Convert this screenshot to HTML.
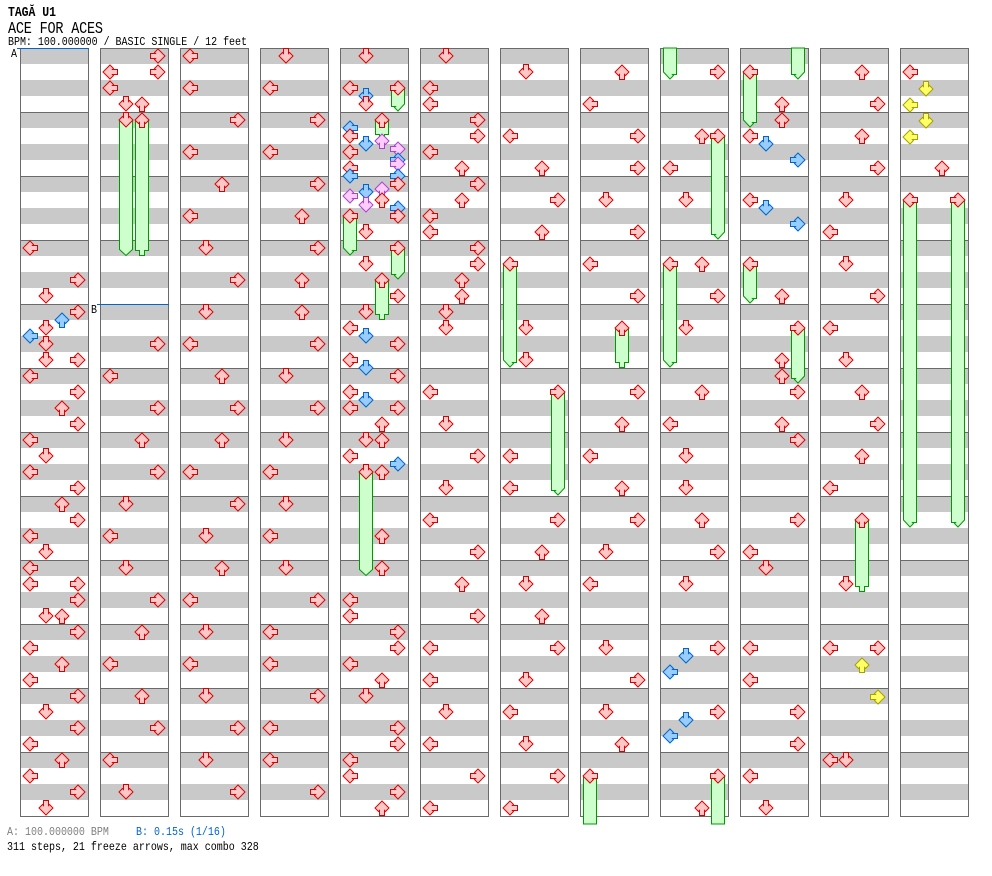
<!DOCTYPE html>
<html><head><meta charset="utf-8"><style>
html,body{margin:0;padding:0;background:#fff;}
svg{display:block;font-family:"Liberation Mono",monospace;}
.r{fill:#ffc8c8;stroke:#dd0000}
.b{fill:#99ccff;stroke:#0066cc}
.y{fill:#ffff66;stroke:#a8a000}
.p{fill:#ffccff;stroke:#aa44cc}
.f{fill:#ccffcc;stroke:#009900}
</style></head><body>
<svg width="992" height="876" viewBox="0 0 992 876" xmlns="http://www.w3.org/2000/svg" xmlns:xlink="http://www.w3.org/1999/xlink">
<defs>
<pattern id="st" x="0" y="48" width="100" height="64" patternUnits="userSpaceOnUse">
<rect width="100" height="64" fill="#fff"/>
<rect y="0" width="100" height="16" fill="#c9c9c9"/>
<rect y="32" width="100" height="16" fill="#c9c9c9"/>
<rect y="0" width="100" height="1" fill="#6a6a6a"/>
</pattern>
<path id="a" d="M5.5,0.5H10.5V5.5L11.5,4.5L15,8L8,15L1,8L4.5,4.5L5.5,5.5Z"/>
<use id="L" href="#a" xlink:href="#a" transform="rotate(90 8 8)"/>
<use id="D" href="#a" xlink:href="#a" transform="translate(16 0)"/>
<use id="U" href="#a" xlink:href="#a" transform="translate(32 0) rotate(180 8 8)"/>
<use id="R" href="#a" xlink:href="#a" transform="translate(48 0) rotate(-90 8 8)"/>
</defs>
<rect width="992" height="876" fill="#fff"/>

<text transform="translate(8,16) scale(1,1.22)" font-size="11.5" font-weight="bold" textLength="48">TAGĂ U1</text>
<text transform="translate(8,33) scale(1,1.25)" font-size="13.5" textLength="95">ACE FOR ACES</text>
<text transform="translate(8,45) scale(1,1.22)" font-size="10" textLength="239">BPM: 100.000000 / BASIC SINGLE / 12 feet</text>

<g fill="url(#st)" stroke="#6a6a6a">
<rect x="20.5" y="48.5" width="68" height="768"/>
<rect x="100.5" y="48.5" width="68" height="768"/>
<rect x="180.5" y="48.5" width="68" height="768"/>
<rect x="260.5" y="48.5" width="68" height="768"/>
<rect x="340.5" y="48.5" width="68" height="768"/>
<rect x="420.5" y="48.5" width="68" height="768"/>
<rect x="500.5" y="48.5" width="68" height="768"/>
<rect x="580.5" y="48.5" width="68" height="768"/>
<rect x="660.5" y="48.5" width="68" height="768"/>
<rect x="740.5" y="48.5" width="68" height="768"/>
<rect x="820.5" y="48.5" width="68" height="768"/>
<rect x="900.5" y="48.5" width="68" height="768"/>
</g>

<rect x="17" y="48" width="72" height="1" fill="#0066cc"/>
<rect x="97" y="304" width="72" height="1" fill="#0066cc"/>
<text transform="translate(11,57) scale(1,1.2)" font-size="10">A</text>
<text transform="translate(91,313) scale(1,1.2)" font-size="10">B</text>

<!-- Column 1 -->
<g transform="translate(22,48)">
<use href="#L" xlink:href="#L" y="192" class="r"/>
<use href="#R" xlink:href="#R" y="224" class="r"/>
<use href="#D" xlink:href="#D" y="240" class="r"/>
<use href="#R" xlink:href="#R" y="256" class="r"/>
<use href="#U" xlink:href="#U" y="264" class="b"/>
<use href="#D" xlink:href="#D" y="272" class="r"/>
<use href="#L" xlink:href="#L" y="280" class="b"/>
<use href="#D" xlink:href="#D" y="288" class="r"/>
<use href="#D" xlink:href="#D" y="304" class="r"/>
<use href="#R" xlink:href="#R" y="304" class="r"/>
<use href="#L" xlink:href="#L" y="320" class="r"/>
<use href="#R" xlink:href="#R" y="336" class="r"/>
<use href="#U" xlink:href="#U" y="352" class="r"/>
<use href="#R" xlink:href="#R" y="368" class="r"/>
<use href="#L" xlink:href="#L" y="384" class="r"/>
<use href="#D" xlink:href="#D" y="400" class="r"/>
<use href="#L" xlink:href="#L" y="416" class="r"/>
<use href="#R" xlink:href="#R" y="432" class="r"/>
<use href="#U" xlink:href="#U" y="448" class="r"/>
<use href="#R" xlink:href="#R" y="464" class="r"/>
<use href="#L" xlink:href="#L" y="480" class="r"/>
<use href="#D" xlink:href="#D" y="496" class="r"/>
<use href="#L" xlink:href="#L" y="512" class="r"/>
<use href="#L" xlink:href="#L" y="528" class="r"/>
<use href="#R" xlink:href="#R" y="528" class="r"/>
<use href="#R" xlink:href="#R" y="544" class="r"/>
<use href="#D" xlink:href="#D" y="560" class="r"/>
<use href="#U" xlink:href="#U" y="560" class="r"/>
<use href="#R" xlink:href="#R" y="576" class="r"/>
<use href="#L" xlink:href="#L" y="592" class="r"/>
<use href="#U" xlink:href="#U" y="608" class="r"/>
<use href="#L" xlink:href="#L" y="624" class="r"/>
<use href="#R" xlink:href="#R" y="640" class="r"/>
<use href="#D" xlink:href="#D" y="656" class="r"/>
<use href="#R" xlink:href="#R" y="672" class="r"/>
<use href="#L" xlink:href="#L" y="688" class="r"/>
<use href="#U" xlink:href="#U" y="704" class="r"/>
<use href="#L" xlink:href="#L" y="720" class="r"/>
<use href="#R" xlink:href="#R" y="736" class="r"/>
<use href="#D" xlink:href="#D" y="752" class="r"/>
</g>

<!-- Column 2 -->
<g transform="translate(102,48)">
<path class="f" d="M17.5,72V201.5L24,207.5L30.5,201.5V72Z"/>
<path class="f" d="M33.5,72V202.5H37.5V207.5H42.5V202.5H46.5V72Z"/>
<use href="#R" xlink:href="#R" y="0" class="r"/>
<use href="#L" xlink:href="#L" y="16" class="r"/>
<use href="#R" xlink:href="#R" y="16" class="r"/>
<use href="#L" xlink:href="#L" y="32" class="r"/>
<use href="#D" xlink:href="#D" y="48" class="r"/>
<use href="#U" xlink:href="#U" y="48" class="r"/>
<use href="#D" xlink:href="#D" y="64" class="r"/>
<use href="#U" xlink:href="#U" y="64" class="r"/>
<use href="#R" xlink:href="#R" y="288" class="r"/>
<use href="#L" xlink:href="#L" y="320" class="r"/>
<use href="#R" xlink:href="#R" y="352" class="r"/>
<use href="#U" xlink:href="#U" y="384" class="r"/>
<use href="#R" xlink:href="#R" y="416" class="r"/>
<use href="#D" xlink:href="#D" y="448" class="r"/>
<use href="#L" xlink:href="#L" y="480" class="r"/>
<use href="#D" xlink:href="#D" y="512" class="r"/>
<use href="#R" xlink:href="#R" y="544" class="r"/>
<use href="#U" xlink:href="#U" y="576" class="r"/>
<use href="#L" xlink:href="#L" y="608" class="r"/>
<use href="#U" xlink:href="#U" y="640" class="r"/>
<use href="#R" xlink:href="#R" y="672" class="r"/>
<use href="#L" xlink:href="#L" y="704" class="r"/>
<use href="#D" xlink:href="#D" y="736" class="r"/>
</g>

<!-- Column 3 -->
<g transform="translate(182,48)">
<use href="#L" xlink:href="#L" y="0" class="r"/>
<use href="#L" xlink:href="#L" y="32" class="r"/>
<use href="#R" xlink:href="#R" y="64" class="r"/>
<use href="#L" xlink:href="#L" y="96" class="r"/>
<use href="#U" xlink:href="#U" y="128" class="r"/>
<use href="#L" xlink:href="#L" y="160" class="r"/>
<use href="#D" xlink:href="#D" y="192" class="r"/>
<use href="#R" xlink:href="#R" y="224" class="r"/>
<use href="#D" xlink:href="#D" y="256" class="r"/>
<use href="#L" xlink:href="#L" y="288" class="r"/>
<use href="#U" xlink:href="#U" y="320" class="r"/>
<use href="#R" xlink:href="#R" y="352" class="r"/>
<use href="#U" xlink:href="#U" y="384" class="r"/>
<use href="#L" xlink:href="#L" y="416" class="r"/>
<use href="#R" xlink:href="#R" y="448" class="r"/>
<use href="#D" xlink:href="#D" y="480" class="r"/>
<use href="#U" xlink:href="#U" y="512" class="r"/>
<use href="#L" xlink:href="#L" y="544" class="r"/>
<use href="#D" xlink:href="#D" y="576" class="r"/>
<use href="#L" xlink:href="#L" y="608" class="r"/>
<use href="#D" xlink:href="#D" y="640" class="r"/>
<use href="#R" xlink:href="#R" y="672" class="r"/>
<use href="#D" xlink:href="#D" y="704" class="r"/>
<use href="#R" xlink:href="#R" y="736" class="r"/>
</g>

<!-- Column 4 -->
<g transform="translate(262,48)">
<use href="#D" xlink:href="#D" y="0" class="r"/>
<use href="#L" xlink:href="#L" y="32" class="r"/>
<use href="#R" xlink:href="#R" y="64" class="r"/>
<use href="#L" xlink:href="#L" y="96" class="r"/>
<use href="#R" xlink:href="#R" y="128" class="r"/>
<use href="#U" xlink:href="#U" y="160" class="r"/>
<use href="#R" xlink:href="#R" y="192" class="r"/>
<use href="#U" xlink:href="#U" y="224" class="r"/>
<use href="#U" xlink:href="#U" y="256" class="r"/>
<use href="#R" xlink:href="#R" y="288" class="r"/>
<use href="#D" xlink:href="#D" y="320" class="r"/>
<use href="#R" xlink:href="#R" y="352" class="r"/>
<use href="#D" xlink:href="#D" y="384" class="r"/>
<use href="#L" xlink:href="#L" y="416" class="r"/>
<use href="#D" xlink:href="#D" y="448" class="r"/>
<use href="#L" xlink:href="#L" y="480" class="r"/>
<use href="#D" xlink:href="#D" y="512" class="r"/>
<use href="#R" xlink:href="#R" y="544" class="r"/>
<use href="#L" xlink:href="#L" y="576" class="r"/>
<use href="#L" xlink:href="#L" y="608" class="r"/>
<use href="#R" xlink:href="#R" y="640" class="r"/>
<use href="#L" xlink:href="#L" y="672" class="r"/>
<use href="#L" xlink:href="#L" y="704" class="r"/>
<use href="#R" xlink:href="#R" y="736" class="r"/>
</g>

<!-- Column 5 -->
<g transform="translate(342,48)">
<path class="f" d="M62.5,40V56L56,63L52.5,59.5L53.5,58.5H49.5V40Z"/>
<path class="f" d="M33.5,72V86.5H37.5V91.5H42.5V86.5H46.5V72Z"/>
<path class="f" d="M1.5,168V200L8,207L11.5,203.5L10.5,202.5H14.5V168Z"/>
<path class="f" d="M62.5,200V224L56,231L52.5,227.5L53.5,226.5H49.5V200Z"/>
<path class="f" d="M33.5,232V266.5H37.5V271.5H42.5V266.5H46.5V232Z"/>
<path class="f" d="M17.5,424V521.5L24,527.5L30.5,521.5V424Z"/>
<use href="#D" xlink:href="#D" y="0" class="r"/>
<use href="#L" xlink:href="#L" y="32" class="r"/>
<use href="#R" xlink:href="#R" y="32" class="r"/>
<use href="#D" xlink:href="#D" y="40" class="b"/>
<use href="#D" xlink:href="#D" y="48" class="r"/>
<use href="#U" xlink:href="#U" y="64" class="r"/>
<use href="#L" xlink:href="#L" y="72" class="b"/>
<use href="#L" xlink:href="#L" y="80" class="r"/>
<use href="#U" xlink:href="#U" y="85" class="p"/>
<use href="#D" xlink:href="#D" y="88" class="b"/>
<use href="#R" xlink:href="#R" y="93" class="p"/>
<use href="#L" xlink:href="#L" y="96" class="r"/>
<use href="#R" xlink:href="#R" y="104" class="b"/>
<use href="#R" xlink:href="#R" y="108" class="p"/>
<use href="#L" xlink:href="#L" y="112" class="r"/>
<use href="#L" xlink:href="#L" y="120" class="b"/>
<use href="#R" xlink:href="#R" y="120" class="b"/>
<use href="#R" xlink:href="#R" y="128" class="r"/>
<use href="#U" xlink:href="#U" y="133" class="p"/>
<use href="#D" xlink:href="#D" y="136" class="b"/>
<use href="#L" xlink:href="#L" y="140" class="p"/>
<use href="#U" xlink:href="#U" y="144" class="r"/>
<use href="#D" xlink:href="#D" y="149" class="p"/>
<use href="#R" xlink:href="#R" y="152" class="b"/>
<use href="#L" xlink:href="#L" y="160" class="r"/>
<use href="#R" xlink:href="#R" y="160" class="r"/>
<use href="#D" xlink:href="#D" y="176" class="r"/>
<use href="#R" xlink:href="#R" y="192" class="r"/>
<use href="#D" xlink:href="#D" y="208" class="r"/>
<use href="#U" xlink:href="#U" y="224" class="r"/>
<use href="#R" xlink:href="#R" y="240" class="r"/>
<use href="#D" xlink:href="#D" y="256" class="r"/>
<use href="#L" xlink:href="#L" y="272" class="r"/>
<use href="#D" xlink:href="#D" y="280" class="b"/>
<use href="#R" xlink:href="#R" y="288" class="r"/>
<use href="#L" xlink:href="#L" y="304" class="r"/>
<use href="#D" xlink:href="#D" y="312" class="b"/>
<use href="#R" xlink:href="#R" y="320" class="r"/>
<use href="#L" xlink:href="#L" y="336" class="r"/>
<use href="#D" xlink:href="#D" y="344" class="b"/>
<use href="#L" xlink:href="#L" y="352" class="r"/>
<use href="#R" xlink:href="#R" y="352" class="r"/>
<use href="#U" xlink:href="#U" y="368" class="r"/>
<use href="#D" xlink:href="#D" y="384" class="r"/>
<use href="#U" xlink:href="#U" y="384" class="r"/>
<use href="#L" xlink:href="#L" y="400" class="r"/>
<use href="#R" xlink:href="#R" y="408" class="b"/>
<use href="#D" xlink:href="#D" y="416" class="r"/>
<use href="#U" xlink:href="#U" y="416" class="r"/>
<use href="#U" xlink:href="#U" y="480" class="r"/>
<use href="#U" xlink:href="#U" y="512" class="r"/>
<use href="#L" xlink:href="#L" y="544" class="r"/>
<use href="#L" xlink:href="#L" y="560" class="r"/>
<use href="#R" xlink:href="#R" y="576" class="r"/>
<use href="#R" xlink:href="#R" y="592" class="r"/>
<use href="#L" xlink:href="#L" y="608" class="r"/>
<use href="#U" xlink:href="#U" y="624" class="r"/>
<use href="#D" xlink:href="#D" y="640" class="r"/>
<use href="#R" xlink:href="#R" y="672" class="r"/>
<use href="#R" xlink:href="#R" y="688" class="r"/>
<use href="#L" xlink:href="#L" y="704" class="r"/>
<use href="#L" xlink:href="#L" y="720" class="r"/>
<use href="#R" xlink:href="#R" y="736" class="r"/>
<use href="#U" xlink:href="#U" y="752" class="r"/>
</g>

<!-- Column 6 -->
<g transform="translate(422,48)">
<use href="#D" xlink:href="#D" y="0" class="r"/>
<use href="#L" xlink:href="#L" y="32" class="r"/>
<use href="#L" xlink:href="#L" y="48" class="r"/>
<use href="#R" xlink:href="#R" y="64" class="r"/>
<use href="#R" xlink:href="#R" y="80" class="r"/>
<use href="#L" xlink:href="#L" y="96" class="r"/>
<use href="#U" xlink:href="#U" y="112" class="r"/>
<use href="#R" xlink:href="#R" y="128" class="r"/>
<use href="#U" xlink:href="#U" y="144" class="r"/>
<use href="#L" xlink:href="#L" y="160" class="r"/>
<use href="#L" xlink:href="#L" y="176" class="r"/>
<use href="#R" xlink:href="#R" y="192" class="r"/>
<use href="#R" xlink:href="#R" y="208" class="r"/>
<use href="#U" xlink:href="#U" y="224" class="r"/>
<use href="#U" xlink:href="#U" y="240" class="r"/>
<use href="#D" xlink:href="#D" y="256" class="r"/>
<use href="#D" xlink:href="#D" y="272" class="r"/>
<use href="#L" xlink:href="#L" y="336" class="r"/>
<use href="#D" xlink:href="#D" y="368" class="r"/>
<use href="#R" xlink:href="#R" y="400" class="r"/>
<use href="#D" xlink:href="#D" y="432" class="r"/>
<use href="#L" xlink:href="#L" y="464" class="r"/>
<use href="#R" xlink:href="#R" y="496" class="r"/>
<use href="#U" xlink:href="#U" y="528" class="r"/>
<use href="#R" xlink:href="#R" y="560" class="r"/>
<use href="#L" xlink:href="#L" y="592" class="r"/>
<use href="#L" xlink:href="#L" y="624" class="r"/>
<use href="#D" xlink:href="#D" y="656" class="r"/>
<use href="#L" xlink:href="#L" y="688" class="r"/>
<use href="#R" xlink:href="#R" y="720" class="r"/>
<use href="#L" xlink:href="#L" y="752" class="r"/>
</g>

<!-- Column 7 -->
<g transform="translate(502,48)">
<path class="f" d="M1.5,216V312L8,319L11.5,315.5L10.5,314.5H14.5V216Z"/>
<path class="f" d="M62.5,344V440L56,447L52.5,443.5L53.5,442.5H49.5V344Z"/>
<use href="#D" xlink:href="#D" y="16" class="r"/>
<use href="#L" xlink:href="#L" y="80" class="r"/>
<use href="#U" xlink:href="#U" y="112" class="r"/>
<use href="#R" xlink:href="#R" y="144" class="r"/>
<use href="#U" xlink:href="#U" y="176" class="r"/>
<use href="#L" xlink:href="#L" y="208" class="r"/>
<use href="#D" xlink:href="#D" y="272" class="r"/>
<use href="#D" xlink:href="#D" y="304" class="r"/>
<use href="#R" xlink:href="#R" y="336" class="r"/>
<use href="#L" xlink:href="#L" y="400" class="r"/>
<use href="#L" xlink:href="#L" y="432" class="r"/>
<use href="#R" xlink:href="#R" y="464" class="r"/>
<use href="#U" xlink:href="#U" y="496" class="r"/>
<use href="#D" xlink:href="#D" y="528" class="r"/>
<use href="#U" xlink:href="#U" y="560" class="r"/>
<use href="#R" xlink:href="#R" y="592" class="r"/>
<use href="#D" xlink:href="#D" y="624" class="r"/>
<use href="#L" xlink:href="#L" y="656" class="r"/>
<use href="#D" xlink:href="#D" y="688" class="r"/>
<use href="#R" xlink:href="#R" y="720" class="r"/>
<use href="#L" xlink:href="#L" y="752" class="r"/>
</g>

<!-- Column 8 -->
<g transform="translate(582,48)">
<path class="f" d="M33.5,280V314.5H37.5V319.5H42.5V314.5H46.5V280Z"/>
<path class="f" d="M1.5,728V776H14.5V728Z"/>
<use href="#U" xlink:href="#U" y="16" class="r"/>
<use href="#L" xlink:href="#L" y="48" class="r"/>
<use href="#R" xlink:href="#R" y="80" class="r"/>
<use href="#R" xlink:href="#R" y="112" class="r"/>
<use href="#D" xlink:href="#D" y="144" class="r"/>
<use href="#R" xlink:href="#R" y="176" class="r"/>
<use href="#L" xlink:href="#L" y="208" class="r"/>
<use href="#R" xlink:href="#R" y="240" class="r"/>
<use href="#U" xlink:href="#U" y="272" class="r"/>
<use href="#R" xlink:href="#R" y="336" class="r"/>
<use href="#U" xlink:href="#U" y="368" class="r"/>
<use href="#L" xlink:href="#L" y="400" class="r"/>
<use href="#U" xlink:href="#U" y="432" class="r"/>
<use href="#R" xlink:href="#R" y="464" class="r"/>
<use href="#D" xlink:href="#D" y="496" class="r"/>
<use href="#L" xlink:href="#L" y="528" class="r"/>
<use href="#D" xlink:href="#D" y="592" class="r"/>
<use href="#R" xlink:href="#R" y="624" class="r"/>
<use href="#D" xlink:href="#D" y="656" class="r"/>
<use href="#U" xlink:href="#U" y="688" class="r"/>
<use href="#L" xlink:href="#L" y="720" class="r"/>
</g>

<!-- Column 9 -->
<g transform="translate(662,48)">
<path class="f" d="M1.5,0V24L8,31L11.5,27.5L10.5,26.5H14.5V0Z"/>
<path class="f" d="M62.5,88V184L56,191L52.5,187.5L53.5,186.5H49.5V88Z"/>
<path class="f" d="M1.5,216V312L8,319L11.5,315.5L10.5,314.5H14.5V216Z"/>
<path class="f" d="M49.5,728V776H62.5V728Z"/>
<use href="#R" xlink:href="#R" y="16" class="r"/>
<use href="#U" xlink:href="#U" y="80" class="r"/>
<use href="#R" xlink:href="#R" y="80" class="r"/>
<use href="#L" xlink:href="#L" y="112" class="r"/>
<use href="#D" xlink:href="#D" y="144" class="r"/>
<use href="#L" xlink:href="#L" y="208" class="r"/>
<use href="#U" xlink:href="#U" y="208" class="r"/>
<use href="#R" xlink:href="#R" y="240" class="r"/>
<use href="#D" xlink:href="#D" y="272" class="r"/>
<use href="#U" xlink:href="#U" y="336" class="r"/>
<use href="#L" xlink:href="#L" y="368" class="r"/>
<use href="#D" xlink:href="#D" y="400" class="r"/>
<use href="#D" xlink:href="#D" y="432" class="r"/>
<use href="#U" xlink:href="#U" y="464" class="r"/>
<use href="#R" xlink:href="#R" y="496" class="r"/>
<use href="#D" xlink:href="#D" y="528" class="r"/>
<use href="#R" xlink:href="#R" y="592" class="r"/>
<use href="#D" xlink:href="#D" y="600" class="b"/>
<use href="#L" xlink:href="#L" y="616" class="b"/>
<use href="#R" xlink:href="#R" y="656" class="r"/>
<use href="#D" xlink:href="#D" y="664" class="b"/>
<use href="#L" xlink:href="#L" y="680" class="b"/>
<use href="#R" xlink:href="#R" y="720" class="r"/>
<use href="#U" xlink:href="#U" y="752" class="r"/>
</g>

<!-- Column 10 -->
<g transform="translate(742,48)">
<path class="f" d="M62.5,0V24L56,31L52.5,27.5L53.5,26.5H49.5V0Z"/>
<path class="f" d="M1.5,24V72L8,79L11.5,75.5L10.5,74.5H14.5V24Z"/>
<path class="f" d="M1.5,216V248L8,255L11.5,251.5L10.5,250.5H14.5V216Z"/>
<path class="f" d="M62.5,280V328L56,335L52.5,331.5L53.5,330.5H49.5V280Z"/>
<use href="#L" xlink:href="#L" y="16" class="r"/>
<use href="#U" xlink:href="#U" y="48" class="r"/>
<use href="#U" xlink:href="#U" y="64" class="r"/>
<use href="#L" xlink:href="#L" y="80" class="r"/>
<use href="#D" xlink:href="#D" y="88" class="b"/>
<use href="#R" xlink:href="#R" y="104" class="b"/>
<use href="#L" xlink:href="#L" y="144" class="r"/>
<use href="#D" xlink:href="#D" y="152" class="b"/>
<use href="#R" xlink:href="#R" y="168" class="b"/>
<use href="#L" xlink:href="#L" y="208" class="r"/>
<use href="#U" xlink:href="#U" y="240" class="r"/>
<use href="#R" xlink:href="#R" y="272" class="r"/>
<use href="#U" xlink:href="#U" y="304" class="r"/>
<use href="#U" xlink:href="#U" y="320" class="r"/>
<use href="#R" xlink:href="#R" y="336" class="r"/>
<use href="#U" xlink:href="#U" y="368" class="r"/>
<use href="#R" xlink:href="#R" y="384" class="r"/>
<use href="#R" xlink:href="#R" y="464" class="r"/>
<use href="#L" xlink:href="#L" y="496" class="r"/>
<use href="#D" xlink:href="#D" y="512" class="r"/>
<use href="#L" xlink:href="#L" y="592" class="r"/>
<use href="#L" xlink:href="#L" y="624" class="r"/>
<use href="#R" xlink:href="#R" y="656" class="r"/>
<use href="#R" xlink:href="#R" y="688" class="r"/>
<use href="#L" xlink:href="#L" y="720" class="r"/>
<use href="#D" xlink:href="#D" y="752" class="r"/>
</g>

<!-- Column 11 -->
<g transform="translate(822,48)">
<path class="f" d="M33.5,472V538.5H37.5V543.5H42.5V538.5H46.5V472Z"/>
<use href="#U" xlink:href="#U" y="16" class="r"/>
<use href="#R" xlink:href="#R" y="48" class="r"/>
<use href="#U" xlink:href="#U" y="80" class="r"/>
<use href="#R" xlink:href="#R" y="112" class="r"/>
<use href="#D" xlink:href="#D" y="144" class="r"/>
<use href="#L" xlink:href="#L" y="176" class="r"/>
<use href="#D" xlink:href="#D" y="208" class="r"/>
<use href="#R" xlink:href="#R" y="240" class="r"/>
<use href="#L" xlink:href="#L" y="272" class="r"/>
<use href="#D" xlink:href="#D" y="304" class="r"/>
<use href="#U" xlink:href="#U" y="336" class="r"/>
<use href="#R" xlink:href="#R" y="368" class="r"/>
<use href="#U" xlink:href="#U" y="400" class="r"/>
<use href="#L" xlink:href="#L" y="432" class="r"/>
<use href="#U" xlink:href="#U" y="464" class="r"/>
<use href="#D" xlink:href="#D" y="528" class="r"/>
<use href="#L" xlink:href="#L" y="592" class="r"/>
<use href="#R" xlink:href="#R" y="592" class="r"/>
<use href="#U" xlink:href="#U" y="609" class="y"/>
<use href="#R" xlink:href="#R" y="641" class="y"/>
<use href="#L" xlink:href="#L" y="704" class="r"/>
<use href="#D" xlink:href="#D" y="704" class="r"/>
</g>

<!-- Column 12 -->
<g transform="translate(902,48)">
<path class="f" d="M1.5,152V472L8,479L11.5,475.5L10.5,474.5H14.5V152Z"/>
<path class="f" d="M62.5,152V472L56,479L52.5,475.5L53.5,474.5H49.5V152Z"/>
<use href="#L" xlink:href="#L" y="16" class="r"/>
<use href="#D" xlink:href="#D" y="33" class="y"/>
<use href="#L" xlink:href="#L" y="49" class="y"/>
<use href="#D" xlink:href="#D" y="65" class="y"/>
<use href="#L" xlink:href="#L" y="81" class="y"/>
<use href="#U" xlink:href="#U" y="112" class="r"/>
<use href="#L" xlink:href="#L" y="144" class="r"/>
<use href="#R" xlink:href="#R" y="144" class="r"/>
</g>

<text transform="translate(7,835) scale(1,1.2)" font-size="10" fill="#808080">A: 100.000000 BPM</text>
<text transform="translate(136,835) scale(1,1.2)" font-size="10" fill="#0066cc">B: 0.15s (1/16)</text>
<text transform="translate(7,850) scale(1,1.2)" font-size="10">311 steps, 21 freeze arrows, max combo 328</text>
</svg>
</body></html>
